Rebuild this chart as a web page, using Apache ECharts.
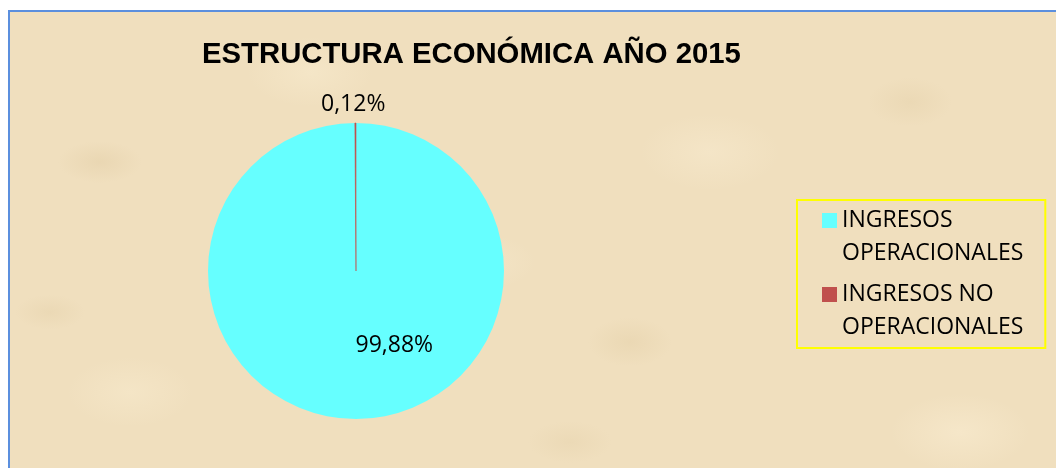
<!DOCTYPE html>
<html>
<head>
<meta charset="utf-8">
<script src="https://cdn.jsdelivr.net/npm/echarts@6/dist/echarts.min.js"></script>
<style>
  html, body { margin: 0; padding: 0; background: #ffffff; width: 1056px; height: 468px; overflow: hidden; }
  #frame {
    position: absolute; left: 8px; top: 10px; width: 1060px; height: 470px;
    border-left: 2px solid #5b8fde; border-top: 2px solid #5b8fde;
    background:
      radial-gradient(ellipse 60px 30px at 90px 150px, rgba(214,190,145,0.25), rgba(214,190,145,0) 70%),
      radial-gradient(ellipse 90px 50px at 300px 60px, rgba(250,238,210,0.45), rgba(250,238,210,0) 70%),
      radial-gradient(ellipse 90px 50px at 120px 380px, rgba(250,238,210,0.4), rgba(250,238,210,0) 70%),
      radial-gradient(ellipse 60px 35px at 620px 330px, rgba(218,195,150,0.25), rgba(218,195,150,0) 70%),
      radial-gradient(ellipse 100px 55px at 700px 140px, rgba(250,238,212,0.4), rgba(250,238,212,0) 70%),
      radial-gradient(ellipse 60px 35px at 900px 90px, rgba(220,198,155,0.25), rgba(220,198,155,0) 70%),
      radial-gradient(ellipse 100px 55px at 950px 420px, rgba(252,240,214,0.45), rgba(252,240,214,0) 70%),
      radial-gradient(ellipse 60px 30px at 560px 430px, rgba(220,198,155,0.22), rgba(220,198,155,0) 70%),
      radial-gradient(ellipse 50px 25px at 40px 300px, rgba(220,198,155,0.25), rgba(220,198,155,0) 70%),
      radial-gradient(ellipse 80px 40px at 470px 250px, rgba(250,238,212,0.35), rgba(250,238,212,0) 70%),
      #f0dfbe;
  }
  #chart { position: absolute; left: 0; top: 0; width: 1056px; height: 468px; }
</style>
</head>
<body>
<div id="frame"></div>
<div id="chart"></div>
<script>
const titleText = 'ESTRUCTURA ECONÓMICA AÑO 2015';
const categories = ['INGRESOS OPERACIONALES', 'INGRESOS NO OPERACIONALES'];
const legendLabels = ['INGRESOS\nOPERACIONALES', 'INGRESOS NO\nOPERACIONALES'];
const percentValues = [99.88, 0.12];
const sliceColors = ['#66ffff', '#c0504d'];

const chart = echarts.init(document.getElementById('chart'), null, { renderer: 'canvas' });

const iconPath = 'path://M0,0 L0.01,0 L0,0.01 Z M0,9 L15,9 L15,24 L0,24 Z M15,66 L14.99,66 L15,65.99 Z';

const option = {
  backgroundColor: 'transparent',
  animation: false,
  title: {
    text: titleText,
    left: 202,
    top: 40,
    padding: 0,
    textStyle: { fontFamily: 'Liberation Sans, Arial, sans-serif', fontWeight: 'bold', fontSize: 29.3, color: '#000' }
  },
  legend: {
    orient: 'vertical',
    left: 797,
    top: 200,
    padding: [4, 22, 4, 25],
    itemGap: 8,
    itemWidth: 15,
    itemHeight: 66,
    icon: iconPath,
    itemStyle: { borderWidth: 0, borderColor: 'transparent' },
    borderColor: '#ffff00',
    borderWidth: 2,
    data: categories,
    formatter: function (name) { return legendLabels[categories.indexOf(name)]; },
    textStyle: { fontFamily: 'Open Sans, sans-serif', fontSize: 23, lineHeight: 33, color: '#000' }
  },
  series: [{
    type: 'pie',
    center: [356, 271],
    radius: [0, 148],
    startAngle: 90,
    clockwise: true,
    avoidLabelOverlap: false,
    label: {
      show: true,
      position: 'inside',
      fontFamily: 'Open Sans, sans-serif',
      fontSize: 23,
      color: '#000',
      formatter: function (p) { return p.value.toFixed(2).replace('.', ',') + '%'; }
    },
    labelLine: { show: false },
    labelLayout: function (params) {
      if (params.dataIndex === 0) return { dx: 38, dy: -3 };
      return { dx: -2.5, dy: -90 };
    },
    emphasis: { disabled: true },
    itemStyle: { borderWidth: 0 },
    data: categories.map(function (c, i) {
      return {
        name: c,
        value: percentValues[i],
        itemStyle: i === 1
          ? { color: sliceColors[i], borderColor: sliceColors[i], borderWidth: 0.6 }
          : { color: sliceColors[i] }
      };
    })
  }]
};
chart.setOption(option);
</script>
</body>
</html>
